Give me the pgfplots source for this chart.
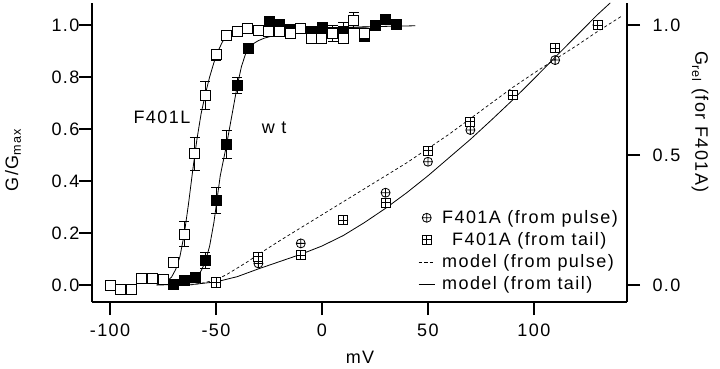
\documentclass[border=0pt]{standalone}
\usepackage{pgfplots}
\pgfplotsset{compat=1.18}
\usepackage{fontspec}
\setmainfont{Liberation Sans}[LetterSpace=8]
\newcommand\ff{\fontsize{18}{21}\selectfont}

\pgfdeclareplotmark{boxplus}{%
  \pgfpathrectangle{\pgfpoint{-\pgfplotmarksize}{-\pgfplotmarksize}}{\pgfpoint{2\pgfplotmarksize}{2\pgfplotmarksize}}%
  \pgfusepathqfillstroke
  \pgfpathmoveto{\pgfpoint{-\pgfplotmarksize}{0pt}}\pgfpathlineto{\pgfpoint{\pgfplotmarksize}{0pt}}%
  \pgfpathmoveto{\pgfpoint{0pt}{-\pgfplotmarksize}}\pgfpathlineto{\pgfpoint{0pt}{\pgfplotmarksize}}%
  \pgfusepathqstroke}

% F401L data: x  y  err
\pgfplotstableread{
x y e
-100 0.000 0
-95 -0.017 0
-90 -0.017 0
-85 0.026 0
-80 0.026 0
-75 0.020 0
-70 0.086 0.012
-65 0.196 0.048
-60 0.505 0.064
-55 0.730 0.053
-50 0.885 0.022
-45 0.958 0.008
-40 0.975 0.006
-35 0.987 0.006
-30 0.980 0.006
-25 0.975 0.008
-20 0.975 0.008
-15 0.968 0.010
-10 0.985 0.010
-5 0.949 0.020
0 0.949 0.020
5 0.968 0.030
10 0.949 0.020
15 1.017 0.030
20 0.968 0.020
}\flL
% wt data
\pgfplotstableread{
x y e
-70 0.004 0
-65 0.020 0
-60 0.030 0
-55 0.094 0.030
-50 0.327 0.050
-45 0.540 0.055
-40 0.767 0.030
-35 0.910 0.020
-25 1.013 0.008
-20 1.004 0.008
-15 0.985 0.010
-5 0.975 0.010
0 0.990 0.015
10 0.975 0.035
20 0.955 0.015
25 1.000 0.008
30 1.023 0.008
35 1.004 0.006
}\wt

\begin{document}
\begin{tikzpicture}[x=1pt,y=1pt]
\path[use as bounding box] (0,0) rectangle (720,368);
\begin{axis}[
  at={(92pt,66pt)}, anchor=south west, scale only axis,
  width=535pt, height=299pt,
  xmin=-108.5, xmax=143.9, ymin=-0.0654, ymax=1.0846,
  axis x line*=bottom, axis y line*=left,
  axis line style={line width=1.3pt},
  every tick/.style={black, line width=1.3pt},
  tick align=outside, major tick length=13pt,
  xtick={-100,-50,0,50,100}, xticklabels={-100,-50,0,50,100},
  ytick={0,0.2,0.4,0.6,0.8,1.0}, yticklabels={0.0,0.2,0.4,0.6,0.8,1.0},
  tick label style={font=\ff},
  xticklabel style={yshift=-5pt},
  yticklabel style={xshift=4pt},
  legend style={draw=none, fill=none, font=\ff, at={(0.604,0.320)}, anchor=north west, row sep=3.5pt, legend cell align=left,
    /tikz/every odd column/.append style={column sep=5pt}},
  legend image code/.code={\draw[mark repeat=2,mark phase=2,#1] plot coordinates {(0pt,0pt) (8pt,0pt) (16pt,0pt)};},
  clip=true,
]
% fit lines
\addplot[black, line width=0.8pt, forget plot] coordinates {
(-78,0.000) (-74,0.010) (-71,0.030) (-69,0.060) (-67,0.110) (-65,0.195) (-63,0.310) (-61,0.440) (-60,0.500) (-59,0.560) (-57,0.660) (-55,0.735) (-53,0.800) (-51,0.855) (-49,0.900) (-47,0.935) (-45,0.955) (-42,0.970) (-38,0.980) (-30,0.986) (-20,0.988) (0,0.990) (22,0.992)};
\addplot[black, line width=0.8pt, forget plot] coordinates {
(-72,0.000) (-66,0.005) (-62,0.015) (-59,0.030) (-57,0.055) (-55,0.090) (-53,0.150) (-51,0.240) (-50,0.300) (-48,0.420) (-46,0.500) (-45,0.540) (-43,0.630) (-41,0.720) (-40,0.765) (-38,0.840) (-36,0.890) (-35,0.905) (-33,0.925) (-30,0.940) (-27,0.950) (-20,0.965) (-10,0.978) (0,0.985) (20,0.993) (44,0.997)};
% wt data
\addplot[only marks, mark=square*, mark size=5pt, black, forget plot,
  error bars/.cd, y dir=both, y explicit, error bar style={black, line width=0.8pt},
  error mark options={rotate=90, mark size=5pt, black, line width=0.8pt}]
  table[x=x, y=y, y error=e] {\wt};
% F401L data
\addplot[only marks, mark=square*, mark size=5pt, black, mark options={fill=white, line width=1pt}, forget plot,
  error bars/.cd, y dir=both, y explicit, error bar style={black, line width=0.8pt},
  error mark options={rotate=90, mark size=5pt, black, line width=0.8pt}]
  table[x=x, y=y, y error=e] {\flL};
% F401A
\addplot[only marks, mark=oplus, mark size=4.5pt, black, mark options={fill=white, line width=0.8pt}] coordinates {
(-50,0.010) (-30,0.083) (-10,0.160) (10,0.250) (30,0.355) (50,0.474) (70,0.596) (90,0.730) (110,0.865) (130,1.000)};
\addlegendentry{F401A (from pulse)}
\addplot[only marks, mark=boxplus, mark size=4.5pt, black, mark options={fill=white, line width=0.8pt}] coordinates {
(-50,0.010) (-30,0.109) (-10,0.115) (10,0.250) (30,0.317) (50,0.517) (70,0.628) (90,0.730) (110,0.910) (130,1.000)};
\addlegendentry{\hspace{10pt}F401A (from tail)}
\addplot[black, line width=0.7pt, dash pattern=on 3pt off 2.5pt] coordinates {
(-62,0.000) (-56,0.008) (-50,0.020) (-45,0.040) (-40,0.065) (-35,0.090) (-30,0.118) (-20,0.170) (-10,0.220) (0,0.270) (10,0.320) (20,0.370) (30,0.420) (40,0.470) (50,0.525) (60,0.580) (70,0.640) (80,0.700) (90,0.760) (100,0.815) (110,0.868) (120,0.920) (130,0.975) (141,1.032)};
\addlegendentry{model (from pulse)}
\addplot[black, line width=0.8pt] coordinates {
(-78,0.000) (-60,0.003) (-50,0.012) (-40,0.032) (-30,0.062) (-20,0.090) (-10,0.118) (0,0.150) (10,0.190) (20,0.240) (30,0.295) (40,0.355) (50,0.420) (60,0.490) (70,0.560) (80,0.635) (90,0.712) (100,0.793) (110,0.876) (120,0.958) (130,1.040) (136,1.085)};
\addlegendentry{model (from tail)}
\node[font=\ff] at (axis cs:-75.5,0.646) {F401L};
\node[font=\ff] at (axis cs:-22.6,0.604) {w t};
\end{axis}
\begin{axis}[
  at={(92pt,66pt)}, anchor=south west, scale only axis,
  width=535pt, height=299pt,
  xmin=-108.5, xmax=143.9, ymin=-0.0654, ymax=1.0846,
  axis x line=none, axis y line*=right,
  axis line style={line width=1.3pt},
  every tick/.style={black, line width=1.3pt},
  tick align=outside, major tick length=13pt,
  ytick={0,0.5,1.0}, yticklabels={0.0,0.5,1.0},
  yticklabel style={font=\ff, xshift=9pt},
]
\addplot[draw=none] coordinates {(0,0)};
\end{axis}
\node[font=\ff, rotate=90] at (13,208) {G/G\textsubscript{max}};
\node[font=\ff, rotate=-90] at (700,246) {G\textsubscript{rel} (for F401A)};
\node[font=\ff] at (360,11) {mV};
\end{tikzpicture}
\end{document}
